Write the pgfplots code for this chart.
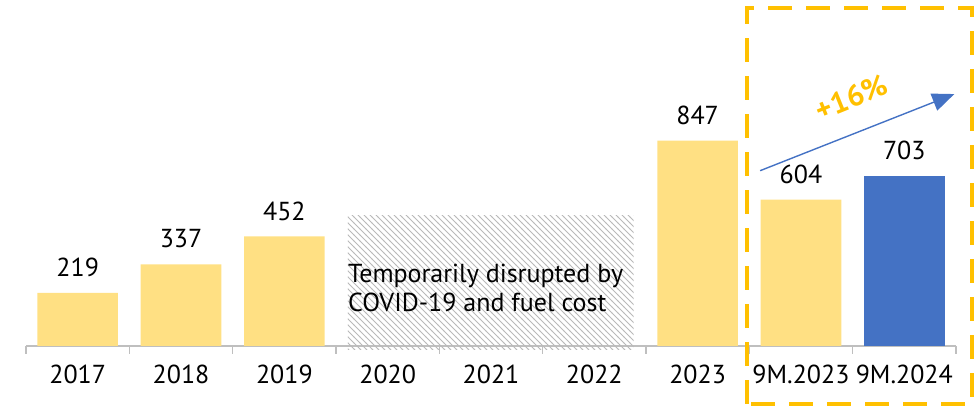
\documentclass[border=0pt]{standalone}
\usepackage{pgfplots}
\pgfplotsset{compat=1.18}
\usepackage{fontspec}
\setmainfont{PT Sans}
\usetikzlibrary{patterns,arrows.meta}
\definecolor{baryellow}{HTML}{FFE083}
\definecolor{barblue}{HTML}{4472C4}
\definecolor{boxyellow}{HTML}{FFC000}
\definecolor{axisgray}{HTML}{BFBFBF}
\begin{document}
\begin{tikzpicture}
\begin{axis}[
  scale only axis,
  width=465pt, height=173pt,
  xmin=-0.5, xmax=8.5, ymin=0, ymax=1427,
  axis x line*=bottom,
  axis y line=none,
  x axis line style={axisgray, line width=0.8pt},
  xtick={0,...,8},
  xticklabels={2017,2018,2019,2020,2021,2022,2023,9M.2023,9M.2024},
  major tick length=0pt,
  minor xtick={-0.5,0.5,...,8.5},
  minor tick length=4pt,
  tick align=outside,
  minor tick style={axisgray, line width=0.8pt},
  xticklabel style={font=\fontsize{13}{15}\selectfont, yshift=-6pt},
  clip=false,
  /pgf/number format/assume math mode=true,
  nodes near coords,
  nodes near coords style={font=\fontsize{13}{15}\selectfont, anchor=south, yshift=4.5pt},
]
\path (rel axis cs:-0.028,-0.182) rectangle (rel axis cs:1.0237,1);
% hatched region
\addplot[draw=none, pattern=north west lines, pattern color=gray!55, forget plot, nodes near coords={}]
  coordinates {(2.614,-15) (5.38,-15) (5.38,540) (2.614,540) (2.614,-15)};
\node[anchor=west, align=left, font=\fontsize{13}{14.5}\selectfont, inner sep=0pt]
  at (axis cs:2.614,240) {Temporarily disrupted by\\COVID-19 and fuel cost};
% bars
\addplot[ybar, bar width=0.78, bar shift=0pt, fill=baryellow, draw=none]
  coordinates {(0,219) (1,337) (2,452) (6,847) (7,604)};
\addplot[ybar, bar width=0.78, bar shift=0pt, fill=barblue, draw=none]
  coordinates {(8,703)};
% dashed box
\draw[boxyellow, line width=2pt, dash pattern=on 12pt off 7pt]
  (axis cs:6.473,-239) rectangle (axis cs:8.658,1396);
% arrow
\draw[barblue, line width=0.7pt, -{Triangle[length=11pt,width=9pt]}]
  (axis cs:6.605,723) -- (axis cs:8.484,1039);
\node[boxyellow, font=\bfseries\fontsize{15}{17}\selectfont, rotate=22, inner sep=0pt]
  at (axis cs:7.49,1025) {+16\%};
\end{axis}
\end{tikzpicture}
\end{document}
